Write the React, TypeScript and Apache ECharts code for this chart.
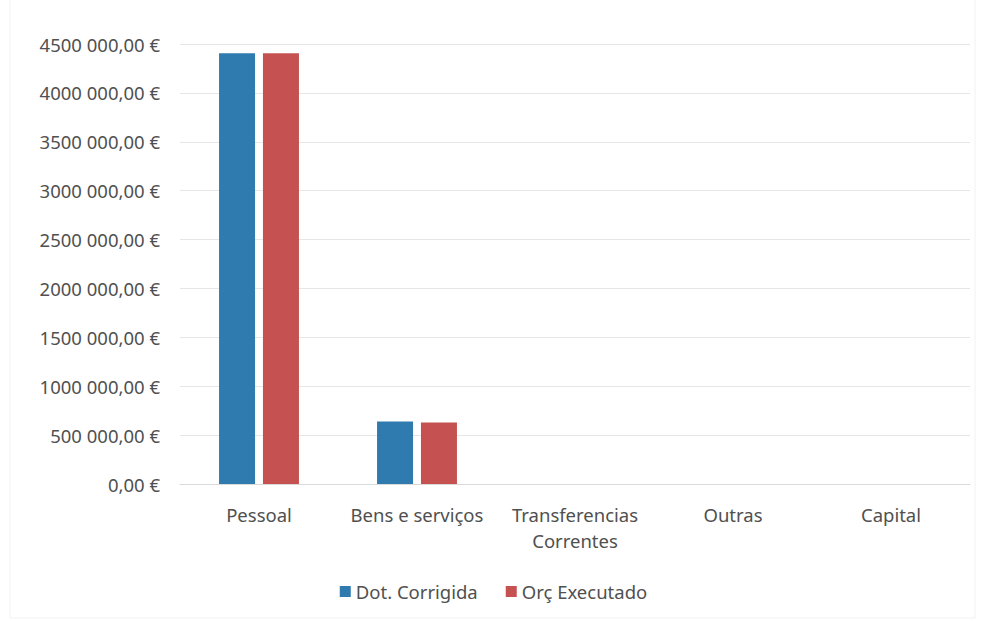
import React, { useEffect, useRef } from "react";
import * as echarts from "echarts";

const categories = ["Pessoal", "Bens e serviços", "Transferencias\nCorrentes", "Outras", "Capital"];
const dotCorrigida = [4405000, 640000, 0, 0, 0];
const orcExecutado = [4405000, 630000, 0, 0, 0];
const yTickLabels = [
  "0,00 €", "500 000,00 €", "1000 000,00 €", "1500 000,00 €", "2000 000,00 €",
  "2500 000,00 €", "3000 000,00 €", "3500 000,00 €", "4000 000,00 €", "4500 000,00 €",
];
const seriesNames = ["Dot. Corrigida", "Orç Executado"];

export default function App() {
  const ref = useRef<HTMLDivElement>(null);
  useEffect(() => {
    if (!ref.current) return;
    const chart = echarts.init(ref.current, null, { renderer: "svg" });
    const font = "'Noto Sans', sans-serif";
    const txt = "#505050";
    chart.setOption({
      animation: false,
      backgroundColor: "#ffffff",
      textStyle: { fontFamily: font },
      graphic: [
        {
          type: "rect",
          shape: { x: 10, y: -2, width: 965, height: 620 },
          style: { fill: "none", stroke: "#f2f2f2", lineWidth: 1 },
          silent: true,
        },
      ],
      grid: { left: 180, right: 17, top: 44, bottom: 137, containLabel: false },
      legend: {
        bottom: 15,
        left: "center",
        itemWidth: 11,
        itemHeight: 11,
        itemGap: 28,
        icon: "rect",
        textStyle: { fontSize: 18.5, color: txt, fontFamily: font },
        data: seriesNames,
      },
      xAxis: {
        type: "category",
        data: categories,
        axisLine: { lineStyle: { color: "#d9d9d9" } },
        axisTick: { show: false },
        axisLabel: { interval: 0, fontSize: 18.5, color: txt, margin: 17, lineHeight: 26, fontFamily: font },
      },
      yAxis: {
        type: "value",
        min: 0,
        max: 4500000,
        interval: 500000,
        axisLine: { show: false },
        axisTick: { show: false },
        splitLine: { lineStyle: { color: "#e6e6e6" } },
        axisLabel: {
          fontSize: 18.5,
          color: txt,
          margin: 20,
          fontFamily: font,
          formatter: (v: number) => yTickLabels[Math.round(v / 500000)] ?? "",
        },
      },
      series: [
        {
          name: seriesNames[0],
          type: "bar",
          data: dotCorrigida,
          barWidth: 36,
          barGap: "22%",
          itemStyle: { color: "#2F7BAF" },
        },
        {
          name: seriesNames[1],
          type: "bar",
          data: orcExecutado,
          barWidth: 36,
          itemStyle: { color: "#C55250" },
        },
      ],
    });
    return () => chart.dispose();
  }, []);
  return <div ref={ref} style={{ width: 987, height: 621, position: "absolute", left: 0, top: 0 }} />;
}
